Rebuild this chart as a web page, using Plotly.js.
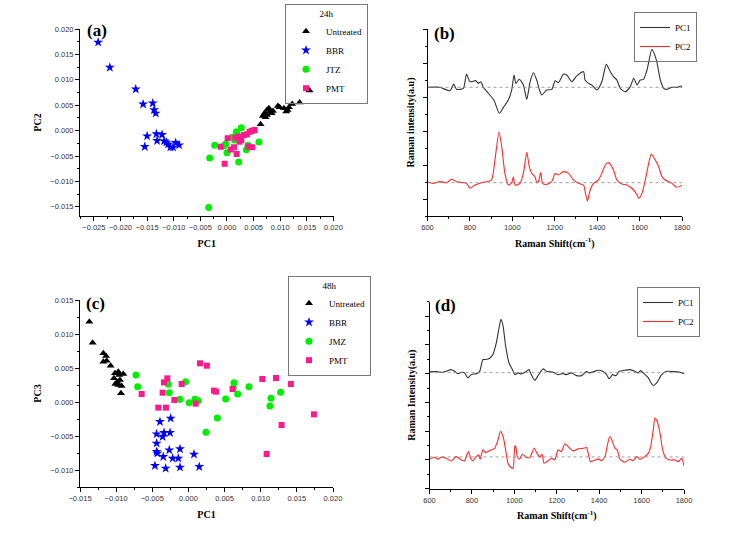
<!DOCTYPE html>
<html><head><meta charset="utf-8">
<script src="https://cdn.plot.ly/plotly-3.0.1.min.js"></script>
<style>html,body{margin:0;padding:0;background:#fff}#chart{width:738px;height:540px}</style>
</head><body><div id="chart"></div>
<script>
// ---- Panel (a): PCA scores 24h (PC1 vs PC2)
const aUntreatedX = [0.00631,0.00675,0.00706,0.00725,0.0075,0.00788,0.0075,0.00813,0.00838,0.00956,0.00988,0.01069,0.01113,0.01138,0.01163,0.01225,0.01363,0.0155,0.00688,0.00863];
const aUntreatedY = [0.00125,0.00289,0.00342,0.00263,0.00408,0.00441,0.00309,0.00375,0.00342,0.00487,0.0046,0.00441,0.00375,0.00408,0.0046,0.00526,0.00552,0.00789,0.00309,0.00388];
const aBBRX = [-0.02419,-0.0220,-0.01713,-0.01575,-0.01394,-0.01369,-0.01338,-0.0150,-0.01544,-0.01325,-0.01313,-0.01219,-0.01181,-0.01138,-0.01106,-0.01063,-0.01013,-0.00963,-0.0090];
const aBBRY = [0.01737,0.01243,0.00816,0.0052,0.00539,0.00408,0.00342,-0.00106,-0.00316,-0.00066,-0.00198,-0.00079,-0.00204,-0.00231,-0.0027,-0.00329,-0.00329,-0.00237,-0.00283];
const aJTZX = [-0.00325,-0.00231,-0.00063,-0.00025,0,0.001,0.00175,0.00194,0.00269,0.00219,0.00363,0.00394,0.006,-0.00344,0.00144];
const aJTZY = [-0.0054,-0.0029,-0.00303,-0.00264,-0.00435,-0.00132,-0.0002,-0.00086,0.00059,-0.00619,-0.00375,-0.0029,-0.00224,-0.01514,-0.00185];
const aPMTX = [-0.00119,-0.00044,0.00013,0.00069,0.00131,0.00181,0.00156,0.00225,0.00269,0.00319,0.00375,0.00425,0.00469,0.00519,0.004,0.00475,0.00238];
const aPMTY = [-0.00316,-0.00652,-0.00152,-0.00369,-0.00329,-0.00461,-0.00139,-0.00119,-0.00185,-0.00086,-0.00073,-0.0002,0,0.00013,-0.00316,-0.00329,-0.00218];

// ---- Panel (c): PCA scores 48h (PC1 vs PC3)
const cUntreatedX = [-0.01371,-0.01325,-0.01177,-0.0114,-0.01131,-0.01177,-0.01076,-0.01016,-0.0097,-0.00956,-0.00901,-0.0103,-0.00984,-0.00947,-0.01011,-0.0097,-0.00924,-0.00933];
const cUntreatedY = [0.01181,0.00873,0.00716,0.00676,0.00608,0.00593,0.00534,0.00422,0.00446,0.00397,0.00412,0.00348,0.00299,0.00324,0.00265,0.0025,0.00235,0.00127];
const cBBRX = [-0.00394,-0.00246,-0.0044,-0.00338,-0.00255,-0.00357,-0.0044,-0.0044,-0.0043,-0.00265,-0.00117,-0.00348,-0.00218,-0.0014,0.00077,-0.00463,-0.00315,-0.00117,0.0015];
const cBBRY = [-0.00289,-0.0024,-0.00471,-0.00451,-0.00451,-0.0051,-0.00608,-0.0073,-0.00755,-0.00706,-0.00691,-0.00804,-0.00828,-0.00828,-0.0077,-0.00936,-0.00976,-0.00961,-0.00951];
const cJMZX = [-0.00726,-0.00702,-0.00278,-0.00265,-0.00039,-0.00117,0.00012,0.0009,0.00137,0.00243,0.00399,0.00515,0.00621,0.0063,0.00681,0.00837,0.01142,0.01128,0.01275];
const cJMZY = [0.00397,0.00225,0.0026,0.00137,0.00299,0.00039,-0.0001,0.00039,0.0002,-0.00446,-0.00235,0.00044,0.00211,0.00284,0.00118,0.00225,0.00054,-0.00059,0.00142];
const cPMTX = [-0.00647,-0.00417,-0.00311,-0.00357,-0.00338,-0.00292,-0.00195,-0.00094,0.0016,0.00256,0.001,0.00353,0.00381,0.00611,0.01022,0.01211,0.01418,0.01736,0.01289,0.01082];
const cPMTY = [0.00118,-0.00083,-0.00083,0.00137,0.00289,0.00348,0.0003,0.00265,0.00569,0.00534,-0.00024,0.00167,0.00152,0.00191,0.00338,0.00353,0.00265,-0.00181,-0.00338,-0.00765];

// ---- Panel (b): loadings 24h (offset spectra, arbitrary units)
const bPC1Shift = [600,658,706,724,737,769,784,800,828,839,852,863,887,913,939,958,981,997,1008,1017,1033,1052,1068,1084,1099,1115,1128,1139,1162,1186,1202,1217,1241,1257,1280,1304,1336,1343,1364,1375,1399,1422,1443,1462,1477,1493,1509,1532,1556,1572,1588,1603,1619,1635,1658,1679,1698,1714,1729,1753,1777,1795,1800];
const bPC1 = [7.57,7.57,7.37,7.76,7.45,7.51,8.35,7.90,7.96,7.80,7.90,7.57,7.22,6.82,6.04,6.39,6.82,7.41,8.29,7.80,8.04,7.71,6.86,7.90,8.43,8.00,7.41,7.12,7.41,7.45,7.96,7.84,8.35,8.29,7.90,8.24,8.49,8.00,7.76,7.71,7.41,7.90,8.92,8.49,8.20,8.00,7.51,7.31,7.61,8.10,7.71,8.00,8.04,8.59,9.80,9.18,8.00,7.51,7.45,7.57,7.57,7.65,7.57];
const bPC2Shift = [600,627,658,690,713,737,769,784,800,824,855,879,902,918,937,950,965,981,997,1005,1013,1036,1052,1068,1080,1091,1107,1115,1123,1134,1143,1162,1186,1202,1217,1241,1265,1288,1312,1336,1345,1354,1367,1383,1406,1422,1438,1454,1477,1493,1517,1540,1572,1588,1597,1611,1627,1643,1655,1674,1690,1706,1721,1753,1773,1800];
const bPC2 = [2.02,1.92,2.02,1.96,2.16,2.02,1.96,1.92,1.63,1.82,1.96,2.02,2.12,3.29,4.96,4.08,2.51,1.82,1.96,2.31,1.82,1.92,2.51,3.75,2.90,2.51,2.31,1.96,2.02,2.55,1.92,1.86,2.02,2.51,2.41,2.61,2.51,2.12,1.92,1.82,1.33,0.88,1.53,1.92,2.12,2.51,3.00,3.14,2.71,2.12,1.88,1.82,1.53,1.24,1.04,1.33,2.12,3.10,3.65,3.29,2.90,2.31,2.12,1.92,1.69,1.80];
const bBaselines = [7.57, 1.96];

// ---- Panel (d): loadings 48h
const dPC1Shift = [600,632,663,679,702,718,734,750,765,781,797,821,836,852,865,884,899,915,928,937,947,959,975,991,1002,1017,1033,1057,1069,1080,1096,1112,1136,1151,1183,1206,1230,1246,1269,1293,1317,1340,1353,1372,1395,1416,1435,1447,1463,1479,1495,1521,1545,1569,1584,1595,1616,1632,1643,1655,1671,1695,1718,1750,1781,1800];
const dPC1 = [6.12,6.14,6.09,6.16,6.28,6.16,6.0,6.09,6.05,5.70,5.93,6.0,6.14,6.98,6.98,7.07,7.33,8.14,9.19,9.77,9.30,7.91,6.74,6.28,5.93,6.05,5.98,6.16,6.28,5.93,5.53,5.86,6.33,6.16,6.09,5.93,6.0,5.93,6.05,5.86,5.86,6.14,6.05,6.12,6.23,6.16,5.93,5.65,5.93,5.86,6.16,6.23,6.28,6.16,6.05,6.21,5.93,5.70,5.40,5.16,5.35,5.93,6.16,6.14,6.09,6.0];
const dPC2Shift = [600,624,639,655,679,702,726,750,765,776,784,794,805,820,832,839,852,865,884,907,923,934,947,959,970,983,994,1002,1006,1014,1025,1038,1054,1073,1093,1107,1120,1131,1140,1159,1175,1191,1206,1222,1238,1254,1277,1301,1325,1340,1348,1359,1380,1395,1411,1427,1439,1450,1463,1474,1485,1498,1521,1545,1561,1577,1592,1608,1632,1643,1655,1663,1674,1687,1699,1715,1734,1758,1773,1789,1800];
const dPC2 = [0.05,0.19,0.05,0.19,0.12,-0.07,0.23,0,-0.07,0.35,0.58,0.12,-0.05,0.23,0.35,0.05,0.70,0.51,0.65,0.81,1.40,1.98,1.63,0.70,-0.23,-0.51,-0.58,0.93,0.98,0.23,0.05,0.40,0.19,0.16,0.81,0.47,0.19,0.40,-0.23,-0.07,0.12,0,0.70,0.58,1.12,0.93,0.63,0.77,0.81,0.86,0.47,-0.12,0,0.07,-0.05,0.23,1.05,1.63,1.28,0.81,0.70,0.05,-0.16,0.05,-0.05,0.23,0.05,0.16,0.47,0.93,2.09,2.91,2.67,1.86,0.74,0.12,0,0,-0.12,0.12,-0.42];
const dBaselines = [6.07, 0.21];

const groupNames24 = ['Untreated','BBR','JTZ','PMT'];
const groupNames48 = ['Untreated','BBR','JMZ','PMT'];
const spectraNames = ['PC1','PC2'];

const colors = {Untreated:'#000000', BBR:'#0000ff', JTZ:'#00ee00', JMZ:'#00ee00', PMT:'#ff1a8c'};
const symbols = {Untreated:'triangle-up', BBR:'star', JTZ:'circle', JMZ:'circle', PMT:'square'};
const sizes = {Untreated:7, BBR:7.5, JTZ:7, JMZ:7, PMT:6};

function pts(name, x, y, xa, ya, leg){
  return {type:'scatter', mode:'markers', name:name, x:x, y:y, xaxis:xa, yaxis:ya, legend:leg,
    marker:{color:colors[name], symbol:symbols[name], size:sizes[name], line:{width:0}}};
}
const aData = [[aUntreatedX,aUntreatedY],[aBBRX,aBBRY],[aJTZX,aJTZY],[aPMTX,aPMTY]];
const cData = [[cUntreatedX,cUntreatedY],[cBBRX,cBBRY],[cJMZX,cJMZY],[cPMTX,cPMTY]];
const traces = [];
groupNames24.forEach((g,i)=>traces.push(pts(g, aData[i][0], aData[i][1], 'x','y','legend')));
groupNames48.forEach((g,i)=>traces.push(pts(g, cData[i][0], cData[i][1], 'x3','y3','legend3')));

const specColors = ['#333333','#ff2a2a'];
const bSpec = [[bPC1Shift,bPC1],[bPC2Shift,bPC2]];
const dSpec = [[dPC1Shift,dPC1],[dPC2Shift,dPC2]];
spectraNames.forEach((n,i)=>traces.push({type:'scatter',mode:'lines',name:n,x:bSpec[i][0],y:bSpec[i][1],xaxis:'x2',yaxis:'y2',legend:'legend2',
  line:{color:specColors[i],width:1.1,shape:'spline',smoothing:0.6}}));
spectraNames.forEach((n,i)=>traces.push({type:'scatter',mode:'lines',name:n,x:dSpec[i][0],y:dSpec[i][1],xaxis:'x4',yaxis:'y4',legend:'legend4',
  line:{color:specColors[i],width:1.1,shape:'spline',smoothing:0.6}}));

const W=738, H=540;
const dx = (a,b)=>[a/W, b/W];
const dy = (top,bot)=>[1-bot/H, 1-top/H];

const tickFont = {family:'Liberation Sans, Arial, sans-serif', size:7.5, color:'#333'};
const titleFont = {family:'Liberation Serif, Times New Roman, serif', size:10, color:'#000', weight:'bold'};
function ax(extra){
  return Object.assign({showline:true, linecolor:'#000', linewidth:1, mirror:false, ticks:'outside', ticklen:4, tickwidth:1, tickcolor:'#000',
    showgrid:false, zeroline:false, tickfont:tickFont, tickangle:0, fixedrange:true}, extra);
}
const shapes = [];
bBaselines.forEach(v=>shapes.push({type:'line', xref:'x2', yref:'y2', x0:600, x1:1800, y0:v, y1:v, line:{color:'#888', width:0.8, dash:'dot'}}));
dBaselines.forEach(v=>shapes.push({type:'line', xref:'x4', yref:'y4', x0:600, x1:1800, y0:v, y1:v, line:{color:'#888', width:0.8, dash:'dot'}}));

const panelFont = {family:'Liberation Serif, Times New Roman, serif', size:17, color:'#000', weight:'bold'};
function panelLabel(t, px, py){ return {text:t, xref:'paper', yref:'paper', x:px/W, y:1-py/H, xanchor:'center', yanchor:'middle', showarrow:false, font:panelFont}; }

const legFont = {family:'Liberation Serif, Times New Roman, serif', size:9, color:'#000'};
function leg(px, py, title){
  const o = {x:px/W, y:1-py/H, xanchor:'left', yanchor:'top', bgcolor:'rgba(255,255,255,0)', bordercolor:'#777', borderwidth:1,
    font:legFont, itemwidth:30, tracegroupgap:0};
  if (title) o.title = {text:title, side:'top center', font:legFont};
  return o;
}

const layout = {
  width:W, height:H, margin:{l:0,r:0,t:0,b:0}, paper_bgcolor:'#fff', plot_bgcolor:'#fff', showlegend:true,
  xaxis: ax({domain:dx(80,333.5), range:[-0.0276,0.0200], tickvals:[-0.025,-0.02,-0.015,-0.01,-0.005,0,0.005,0.01,0.015,0.02], tickformat:'.3f', minor:{ticks:'outside', ticklen:2, dtick:0.0025, tick0:0, tickcolor:'#000'}, anchor:'y',
    title:{text:'PC1', font:titleFont, standoff:8}}),
  yaxis: ax({domain:dy(29,216), range:[-0.0168,0.0200], dtick:0.005, tick0:0, tickformat:'.3f', minor:{ticks:'outside', ticklen:2, dtick:0.0025, tick0:0, tickcolor:'#000'}, anchor:'x',
    title:{text:'PC2', font:titleFont, standoff:6}}),
  xaxis2: ax({domain:dx(427.5,682), range:[600,1800], dtick:200, minor:{ticks:'outside', ticklen:2, dtick:100, tickcolor:'#000'}, anchor:'y2',
    title:{text:'Raman Shift(cm<sup>-1</sup>)', font:titleFont, standoff:8}}),
  yaxis2: ax({domain:dy(29,216), range:[0,11], tick0:1, dtick:2, showticklabels:false, minor:{ticks:'outside', ticklen:2, dtick:1, tick0:0, tickcolor:'#000'}, anchor:'x2',
    title:{text:'Raman intensity(a.u)', font:titleFont, standoff:6}}),
  xaxis3: ax({domain:dx(80,333), range:[-0.015,0.020], dtick:0.005, tick0:0, tickformat:'.3f', minor:{ticks:'outside', ticklen:2, dtick:0.0025, tick0:0, tickcolor:'#000'}, anchor:'y3',
    title:{text:'PC1', font:titleFont, standoff:8}}),
  yaxis3: ax({domain:dy(300,487), range:[-0.0125,0.015], dtick:0.005, tick0:0, tickformat:'.3f', minor:{ticks:'outside', ticklen:2, dtick:0.0025, tick0:0, tickcolor:'#000'}, anchor:'x3',
    title:{text:'PC3', font:titleFont, standoff:6}}),
  xaxis4: ax({domain:dx(429.5,684), range:[600,1800], dtick:200, minor:{ticks:'outside', ticklen:2, dtick:100, tickcolor:'#000'}, anchor:'y4',
    title:{text:'Raman Shift(cm<sup>-1</sup>)', font:titleFont, standoff:8}}),
  yaxis4: ax({domain:dy(301.7,488.7), range:[-2,11], tick0:0, dtick:2, showticklabels:false, minor:{ticks:'outside', ticklen:2, dtick:1, tick0:-2, tickcolor:'#000'}, anchor:'x4',
    title:{text:'Raman Intensity(a.u)', font:titleFont, standoff:6}}),
  legend: leg(285, 4, '24h'),
  legend2: leg(634, 12),
  legend3: leg(288, 276, '48h'),
  legend4: leg(637, 287),
  shapes: shapes,
  annotations: [panelLabel('(a)',97,30), panelLabel('(b)',444,33), panelLabel('(c)',95,303), panelLabel('(d)',446,305)]
};

Plotly.newPlot('chart', traces, layout, {staticPlot:true, displayModeBar:false});
</script></body></html>
